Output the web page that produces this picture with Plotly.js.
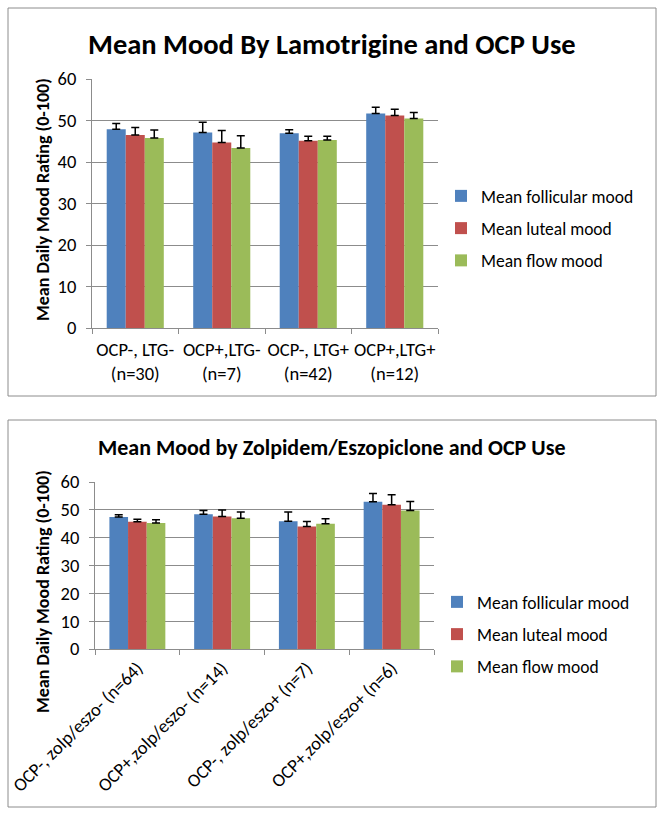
<!DOCTYPE html>
<html>
<head>
<meta charset="utf-8">
<script src="https://cdn.plot.ly/plotly-3.0.1.min.js"></script>
<style>html,body{margin:0;padding:0;background:#fff;}#chart{width:664px;height:817px;}</style>
</head>
<body>
<div id="chart"></div>
<script>
// ---- data ----
const lamCategories = ["OCP-, LTG-<br>(n=30)", "OCP+,LTG-<br>(n=7)", "OCP-, LTG+<br>(n=42)", "OCP+,LTG+<br>(n=12)"];
const lamFollicular = [47.9, 47.1, 46.9, 51.7];
const lamFollicularErr = [1.4, 2.5, 0.9, 1.5];
const lamLuteal = [46.5, 44.7, 45.1, 51.2];
const lamLutealErr = [1.8, 2.9, 1.1, 1.5];
const lamFlow = [45.8, 43.4, 45.3, 50.5];
const lamFlowErr = [1.9, 2.9, 0.9, 1.4];

const zolCategories = ["OCP-, zolp/eszo- (n=64)", "OCP+,zolp/eszo- (n=14)", "OCP-, zolp/eszo+ (n=7)", "OCP+,zolp/eszo+ (n=6)"];
const zolFollicular = [47.4, 48.4, 45.9, 52.9];
const zolFollicularErr = [0.8, 1.4, 3.3, 3.0];
const zolLuteal = [45.7, 47.6, 44.0, 51.8];
const zolLutealErr = [0.9, 2.3, 1.8, 3.6];
const zolFlow = [45.3, 47.0, 45.0, 49.8];
const zolFlowErr = [1.1, 2.2, 1.8, 3.2];

const seriesNames = ["Mean follicular mood", "Mean luteal mood", "Mean flow mood"];
const yTicks = [0, 10, 20, 30, 40, 50, 60];
const title1 = "Mean Mood By Lamotrigine and OCP Use";
const title2 = "Mean Mood by Zolpidem/Eszopiclone and OCP Use";
const yTitle = "Mean Daily Mood Rating (0-100)";

// ---- styles ----
const W = 664, H = 817;
const FONT = "Carlito, Calibri, Lato, sans-serif";
const colors = ["#4F81BD", "#C0504D", "#9BBB59"];
const GRID = "#8c8c8c";
const px = v => v / W;
const py = v => 1 - v / H;

function zeros(n){ return new Array(n).fill(0); }

function mk(cats, vals, errs, i, xa, ya, leg, grp){
  return {
    type: "bar", x: cats, y: vals, name: seriesNames[i],
    xaxis: xa, yaxis: ya, legend: leg, legendgroup: grp + i,
    marker: {color: colors[i], line: {width: 0}},
    error_y: {type: "data", symmetric: false, array: errs, arrayminus: zeros(errs.length),
              color: "#000", thickness: 1.5, width: 4},
    hoverinfo: "skip"
  };
}

const traces = [
  mk(lamCategories, lamFollicular, lamFollicularErr, 0, "x", "y", "legend", "a"),
  mk(lamCategories, lamLuteal, lamLutealErr, 1, "x", "y", "legend", "a"),
  mk(lamCategories, lamFlow, lamFlowErr, 2, "x", "y", "legend", "a"),
  mk(zolCategories, zolFollicular, zolFollicularErr, 0, "x2", "y2", "legend2", "b"),
  mk(zolCategories, zolLuteal, zolLutealErr, 1, "x2", "y2", "legend2", "b"),
  mk(zolCategories, zolFlow, zolFlowErr, 2, "x2", "y2", "legend2", "b")
];

const xaxisBase = {
  type: "category", showgrid: false, zeroline: false,
  showline: true, linecolor: GRID, linewidth: 1,
  ticks: "outside", tickson: "boundaries", ticklen: 5, tickcolor: GRID,
  tickfont: {family: FONT, size: 18.5, color: "#000"}, fixedrange: true
};
const yaxisBase = {
  range: [0, 60], tickvals: yTicks, showgrid: true, gridcolor: GRID, gridwidth: 1,
  zeroline: false, showline: true, linecolor: GRID, linewidth: 1,
  ticks: "outside", ticklen: 5, tickcolor: GRID, ticklabelstandoff: 6,
  tickfont: {family: FONT, size: 18.5, color: "#000"}, fixedrange: true
};

const legendBase = {
  xanchor: "left", yanchor: "top", bgcolor: "rgba(0,0,0,0)",
  font: {family: FONT, size: 17.5, color: "#000"}, tracegroupgap: 6.5, itemwidth: 30
};

const layout = {
  width: W, height: H,
  margin: {l: 0, r: 0, t: 0, b: 0},
  paper_bgcolor: "#fff", plot_bgcolor: "#fff",
  showlegend: true, barmode: "group", bargap: 0.34, bargroupgap: 0,
  font: {family: FONT, color: "#000"},
  xaxis: Object.assign({}, xaxisBase, {domain: [px(92), px(438)], anchor: "y", tickangle: 0, ticklabelstandoff: 5}),
  yaxis: Object.assign({}, yaxisBase, {domain: [py(328), py(79)], anchor: "x"}),
  xaxis2: Object.assign({}, xaxisBase, {domain: [px(95), px(434)], anchor: "y2", tickangle: -45}),
  yaxis2: Object.assign({}, yaxisBase, {domain: [py(649), py(482)], anchor: "x2"}),
  legend: Object.assign({}, legendBase, {x: px(441), y: py(178)}),
  legend2: Object.assign({}, legendBase, {x: px(437), y: py(584)}),
  shapes: [
    {type: "rect", xref: "paper", yref: "paper", x0: px(8), x1: px(656), y0: py(396), y1: py(8),
     line: {color: GRID, width: 1}},
    {type: "rect", xref: "paper", yref: "paper", x0: px(8), x1: px(656), y0: py(807), y1: py(420),
     line: {color: GRID, width: 1}}
  ],
  annotations: [
    {text: "<b>" + title1 + "</b>", xref: "paper", yref: "paper", x: px(332), y: py(45),
     xanchor: "center", yanchor: "middle", showarrow: false, font: {family: FONT, size: 28.5, color: "#000"}},
    {text: "<b>" + title2 + "</b>", xref: "paper", yref: "paper", x: px(332), y: py(448),
     xanchor: "center", yanchor: "middle", showarrow: false, font: {family: FONT, size: 22, color: "#000"}},
    {text: "<b>" + yTitle + "</b>", xref: "paper", yref: "paper", x: px(43), y: py(200), textangle: -90,
     xanchor: "center", yanchor: "middle", showarrow: false, font: {family: FONT, size: 18, color: "#000"}},
    {text: "<b>" + yTitle + "</b>", xref: "paper", yref: "paper", x: px(43), y: py(592), textangle: -90,
     xanchor: "center", yanchor: "middle", showarrow: false, font: {family: FONT, size: 18, color: "#000"}}
  ]
};

Plotly.newPlot("chart", traces, layout, {displayModeBar: false, staticPlot: true});
</script>
</body>
</html>
